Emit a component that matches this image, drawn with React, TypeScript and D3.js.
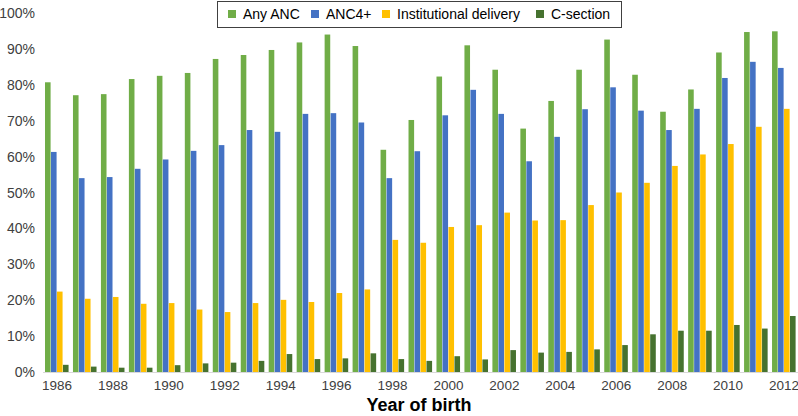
import React from "react";
import * as d3 from "d3";

const years = [
  "1986","1987","1988","1989","1990","1991","1992","1993","1994","1995","1996","1997","1998",
  "1999","2000","2001","2002","2003","2004","2005","2006","2007","2008","2009","2010","2011","2012",
];
const anyANC = [80.7,77.1,77.4,81.6,82.5,83.3,87.2,88.3,89.7,91.8,94.0,90.8,61.9,70.2,82.3,91.0,84.2,67.8,75.5,84.2,92.6,82.8,72.5,78.7,89.0,94.7,94.9];
const anc4 = [61.3,54.0,54.3,56.6,59.2,61.6,63.2,67.4,66.9,71.9,72.1,69.5,54.0,61.5,71.5,78.6,71.9,58.7,65.5,73.2,79.3,72.8,67.4,73.3,81.9,86.4,84.7];
const institutional = [22.4,20.4,20.9,19.0,19.2,17.4,16.7,19.2,20.1,19.5,22.0,23.0,36.8,36.0,40.4,40.9,44.4,42.2,42.3,46.5,50.0,52.7,57.4,60.6,63.5,68.3,73.3];
const cSection = [2.0,1.5,1.2,1.2,1.9,2.4,2.6,3.1,5.0,3.6,3.8,5.2,3.6,3.1,4.4,3.5,6.1,5.4,5.6,6.3,7.5,10.5,11.5,11.5,13.1,12.1,15.6];
const seriesNames = ["Any ANC", "ANC4+", "Institutional delivery", "C-section"];
const seriesValues = [anyANC, anc4, institutional, cSection];
const colors = ["#70AD47", "#4472C4", "#FFC000", "#46722F"];
const yTicks = [0, 10, 20, 30, 40, 50, 60, 70, 80, 90, 100];
const xTickLabels = years.filter((_, i) => i % 2 === 0);

const W = 798, H = 416;
const left = 43, right = 798, top = 13, bottom = 372;

export default function App() {
  const x = d3.scaleBand<string>().domain(years).range([left, right]).paddingInner(0).paddingOuter(0);
  const inner = d3.scaleBand<string>().domain(seriesNames).range([2, x.bandwidth() - 2]).padding(0);
  const y = d3.scaleLinear().domain([0, 100]).range([bottom, top]);
  const font = "Liberation Sans, Arial, sans-serif";

  const legendItems = [
    { x: 228, tx: 243 },
    { x: 311, tx: 326 },
    { x: 382, tx: 397 },
    { x: 536, tx: 551 },
  ];

  return (
    <svg width={W} height={H} style={{ position: "absolute", left: 0, top: 0, background: "#fff" }}>
      {years.map((yr, i) => (
        <g key={yr}>
          {seriesNames.map((s, k) => {
            const v = seriesValues[k][i];
            const bx = (x(yr) as number) + (inner(s) as number);
            return (
              <rect key={s} x={bx} y={y(v)} width={inner.bandwidth() - 0.4} height={bottom - y(v)} fill={colors[k]} />
            );
          })}
        </g>
      ))}
      <line x1={left} x2={right} y1={bottom + 0.5} y2={bottom + 0.5} stroke="#D9D9D9" strokeWidth={1} />
      {yTicks.map((t) => (
        <text key={t} x={35} y={y(t)} dy="0.36em" textAnchor="end" fontFamily={font} fontSize={14} fill="#404040">
          {t}%
        </text>
      ))}
      {xTickLabels.map((yr) => (
        <text key={yr} x={(x(yr) as number) + x.bandwidth() / 2} y={390} textAnchor="middle" fontFamily={font} fontSize={13.5} fill="#404040">
          {yr}
        </text>
      ))}
      <text x={419} y={411} textAnchor="middle" fontFamily={font} fontSize={18} fontWeight="bold" fill="#000">
        Year of birth
      </text>
      <rect x={217.5} y={1.5} width={404} height={26} fill="#fff" stroke="#404040" strokeWidth={1} />
      {seriesNames.map((s, k) => (
        <g key={s}>
          <rect x={legendItems[k].x} y={10} width={8} height={8} fill={colors[k]} />
          <text x={legendItems[k].tx} y={14} dy="0.36em" fontFamily={font} fontSize={14} fill="#000">
            {s}
          </text>
        </g>
      ))}
    </svg>
  );
}
